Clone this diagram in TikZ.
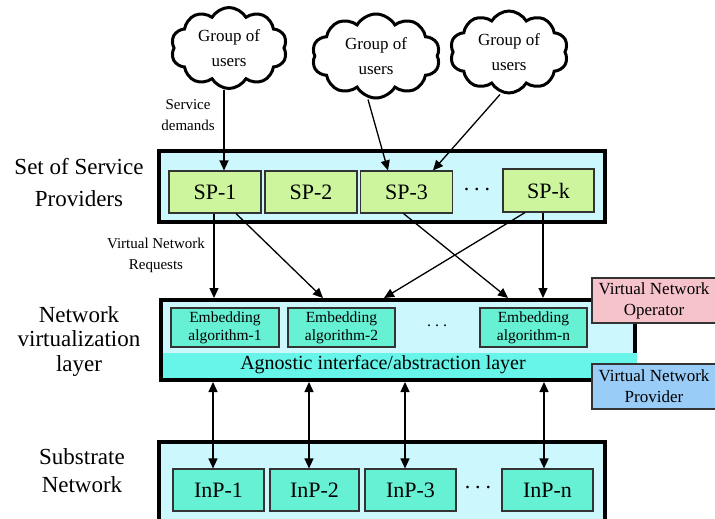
\documentclass[tikz,border=0pt]{standalone}
\usepackage{fontspec}
\setmainfont{Liberation Serif}
\usetikzlibrary{shapes.symbols,arrows.meta}
\definecolor{layerbg}{HTML}{CCF7FC}
\definecolor{spgreen}{HTML}{CCF59E}
\definecolor{algteal}{HTML}{66F0D4}
\definecolor{bandteal}{HTML}{66F5E8}
\definecolor{vnopink}{HTML}{F7C3CB}
\definecolor{vnpblue}{HTML}{99CCF7}
\begin{document}
\begin{tikzpicture}[x=1pt,y=-1pt,
  layer/.style={draw=black, line width=4pt, fill=layerbg, inner sep=0pt},
  smallbox/.style={draw=black!80, line width=1.1pt, inner sep=0pt, align=center},
  spbox/.style={smallbox, fill=spgreen, minimum width=92pt, minimum height=42pt,
    font=\fontsize{22}{26}\selectfont},
  inpbox/.style={smallbox, fill=algteal, minimum width=91pt, minimum height=42pt,
    font=\fontsize{22}{26}\selectfont},
  algbox/.style={smallbox, fill=algteal, minimum width=108pt, minimum height=39pt,
    font=\fontsize{15.5}{18}\selectfont},
  rolebox/.style={smallbox, minimum width=124pt, minimum height=45pt,
    font=\fontsize{17}{21}\selectfont},
  usercloud/.style={cloud, cloud puffs=10, cloud puff arc=120, aspect=1.4,
    draw=black, line width=3pt, fill=white, inner sep=0pt, align=center,
    font=\fontsize{17}{25}\selectfont},
  sidelabel/.style={align=center, inner sep=0pt},
  smalllabel/.style={align=center, inner sep=0pt, font=\fontsize{15}{20.5}\selectfont},
  dots/.style={inner sep=0pt, font=\fontsize{22}{26}\selectfont},
  arr/.style={line width=1.3pt, -{Triangle[length=10pt,width=9pt]}},
  dbl/.style={line width=1.3pt, {Triangle[length=10pt,width=9pt]}-{Triangle[length=10pt,width=9pt]}}
]
\useasboundingbox (0,0) rectangle (715,519);

% ---- user groups ----
\node[usercloud, minimum width=116pt, minimum height=81pt] (c1) at (229,48) {Group of\\users};
\node[usercloud, minimum width=128pt, minimum height=84pt] (c2) at (376,56) {Group of\\users};
\node[usercloud, minimum width=118pt, minimum height=82pt] (c3) at (509,52) {Group of\\users};

% ---- service provider layer ----
\node[layer, minimum width=446pt, minimum height=71pt] (spl) at (382,186.5) {};
\node[spbox] (sp1) at (215,192) {SP-1};
\node[spbox] (sp2) at (311,192) {SP-2};
\node[spbox] (sp3) at (406.5,192) {SP-3};
\node[dots] (spdots) at (477,190) {.\hspace{5pt}.\hspace{5pt}.};
\node[spbox, minimum width=91pt, minimum height=43pt] (spk) at (548.5,190.5) {SP-k};

% ---- network virtualization layer ----
\node[layer, minimum width=474pt, minimum height=80pt] (virt) at (398,340) {};
\node[fill=bandteal, inner sep=0pt, minimum width=474pt, minimum height=25pt] (band) at (400,365.5) {};
\node[inner sep=0pt, font=\fontsize{20}{24}\selectfont] (bandtext) at (383,365) {Agnostic interface/abstraction layer};
\node[algbox] (e1) at (225,327.5) {Embedding\\algorithm-1};
\node[algbox, minimum width=107pt] (e2) at (341.5,327.5) {Embedding\\algorithm-2};
\node[dots, font=\fontsize{16}{20}\selectfont] (edots) at (437,326) {.\hspace{4pt}.\hspace{4pt}.};
\node[algbox, minimum width=107pt] (e3) at (533.5,327.5) {Embedding\\algorithm-n};

% ---- roles ----
\node[rolebox, fill=vnopink] (vno) at (654,300.5) {Virtual Network\\Operator};
\node[rolebox, fill=vnpblue] (vnp) at (654,386.5) {Virtual Network\\Provider};

% ---- substrate network ----
\node[layer, minimum width=446pt, minimum height=90pt] (sub) at (382,487) {};
\node[inpbox] (inp1) at (218.5,490) {InP-1};
\node[inpbox, minimum width=89pt] (inp2) at (314.5,490) {InP-2};
\node[inpbox] (inp3) at (410.5,490) {InP-3};
\node[dots] (inpdots) at (478,488) {.\hspace{5pt}.\hspace{5pt}.};
\node[inpbox] (inpn) at (547.5,490) {InP-n};

% ---- side labels ----
\node[sidelabel, font=\fontsize{23}{32}\selectfont] (lsp) at (79,183) {Set of Service\\Providers};
\node[sidelabel, font=\fontsize{23}{24.5}\selectfont] (lvirt) at (79,341) {Network\\virtualization\\layer};
\node[sidelabel, font=\fontsize{23}{28}\selectfont] (lsub) at (82,471) {Substrate\\Network};

\node[smalllabel] (lserv) at (188,115) {Service\\demands};
\node[smalllabel, font=\fontsize{15}{21}\selectfont] (lreq) at (156,255) {Virtual Network\\Requests};

% ---- service demands ----
\draw[arr] ([xshift=-5pt]c1.south) -- ([xshift=9pt]sp1.north);
\draw[arr] ([xshift=-8pt]c2.south) -- ([xshift=-18.5pt]sp3.north);
\draw[arr] ([xshift=-9pt]c3.south) -- ([xshift=26.5pt]sp3.north);

% ---- virtual network requests ----
\draw[arr] ([xshift=-1pt]sp1.south) -- ([xshift=-1pt]sp1.south |- virt.north);
\draw[arr] ([xshift=21pt]sp1.south) -- ([xshift=-18.5pt]e2.north |- virt.north);
\draw[arr] ([xshift=-3pt]sp3.south) -- ([xshift=-25.5pt]e3.north |- virt.north);
\draw[arr] ([xshift=-23.5pt]spk.south) -- ([xshift=42.5pt]e2.north |- virt.north);
\draw[arr] ([xshift=-5.5pt]spk.south) -- ([xshift=-5.5pt]spk.south |- virt.north);

% ---- substrate links ----
\draw[dbl] ([xshift=-5.5pt]inp1.north) -- ([xshift=-5.5pt]inp1.north |- virt.south);
\draw[dbl] ([xshift=-5.5pt]inp2.north) -- ([xshift=-5.5pt]inp2.north |- virt.south);
\draw[dbl] ([xshift=-5.5pt]inp3.north) -- ([xshift=-5.5pt]inp3.north |- virt.south);
\draw[dbl] ([xshift=-3.5pt]inpn.north) -- ([xshift=-3.5pt]inpn.north |- virt.south);
\end{tikzpicture}
\end{document}
